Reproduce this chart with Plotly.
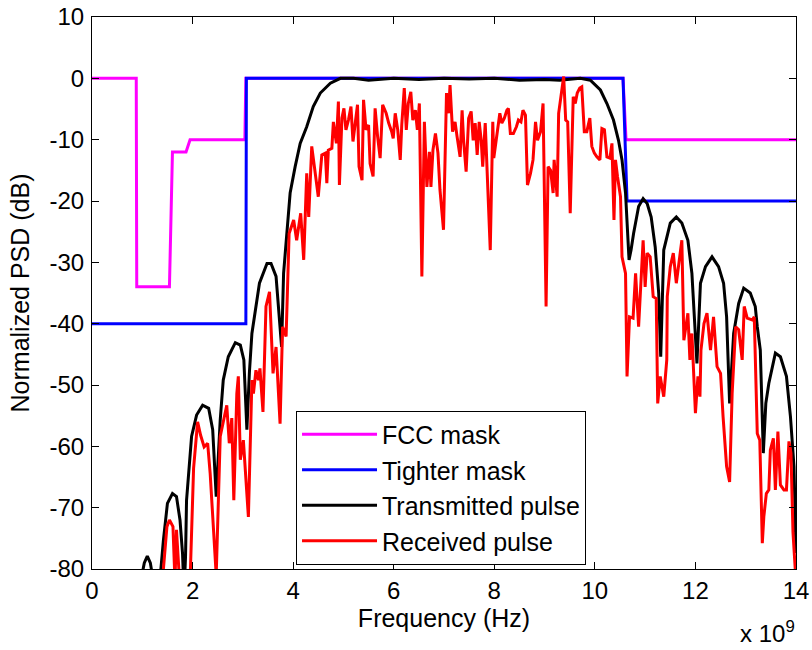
import plotly.graph_objects as go

# ---------------- data (frequency in GHz, PSD in dB) ----------------
fcc_f = [0, 0.88, 0.89, 1.54, 1.60, 1.87, 1.95, 3.04, 3.06, 10.56, 10.62, 14]
fcc_db = [0, 0, -34, -34, -12, -12, -10, -10, 0, 0, -10, -10]

tight_f = [0, 3.06, 3.07, 10.56, 10.64, 14]
tight_db = [-40, -40, 0, 0, -20, -20]

tx_f = [0.0, 0.90, 0.97, 1.04, 1.10, 1.16, 1.22, 1.30, 1.37, 1.42, 1.50, 1.60, 1.68, 1.75,
        1.80, 1.83, 1.86, 1.88, 1.98, 2.08, 2.20, 2.32, 2.40, 2.47, 2.55, 2.61, 2.71,
        2.85, 2.95, 3.02, 3.08, 3.13, 3.18, 3.33, 3.48, 3.56, 3.66, 3.74, 3.77, 3.81,
        3.87, 3.94, 4.04, 4.14, 4.27, 4.40, 4.54, 4.74, 4.94, 5.2, 5.5, 6.0, 6.5, 7.0,
        7.5, 8.0, 8.5, 9.0, 9.3, 9.6, 9.71, 9.91, 10.11, 10.24, 10.37, 10.47, 10.54,
        10.61, 10.64, 10.68, 10.72, 10.77, 10.87, 10.96, 11.04, 11.12, 11.20, 11.27,
        11.31, 11.37, 11.50, 11.62, 11.73, 11.85, 11.93, 12.00, 12.03, 12.10, 12.20,
        12.33, 12.46, 12.56, 12.62, 12.68, 12.76, 12.86, 12.96, 13.09, 13.19, 13.23,
        13.29, 13.35, 13.40, 13.46, 13.59, 13.69, 13.81, 13.89, 13.96, 14.0]
tx_db = [-95, -95, -82, -79, -77.9, -79, -82, -90, -80, -75.3, -69.3, -67.7, -68.2, -72,
         -77.4, -84, -78, -68.8, -58.4, -54.9, -53.3, -53.8, -57.3, -68.2, -55.7, -49.2, -45.4,
         -43.1, -43.5, -45.9, -57.3, -48, -41.6, -33.4, -30.2, -30.2, -32.3, -40.5, -43.8, -31.8,
         -25.8, -18.7, -14.4, -10.6, -7.9, -4.6, -2.4, -0.8, 0, 0, -0.3, 0, -0.2, 0,
         -0.1, 0, -0.3, -0.2, -0.3, -0.1, 0, -0.3, -1.9, -4.1, -6.8, -10.1, -13.3,
         -18.7, -24.2, -29.6, -28, -25.3, -20.9, -19.6, -20.4, -22.6, -27.5, -35.1,
         -45.4, -28, -23.6, -22.6, -23.6, -26.4, -31.8, -41, -46.5, -33.4, -30.7,
         -29.1, -30.7, -33.4, -38.9, -53.0, -41.6, -36.7, -34.2, -35, -37.2, -40.5,
         -44.3, -61.1, -53, -49.7, -44.8, -45.4, -48.6, -55.2, -63.3, -77.4]

rx_f = [1.38, 1.42, 1.49, 1.54, 1.61, 1.65, 1.68, 1.74, 1.80, 1.95, 2.02, 2.10, 2.16, 2.23,
        2.30, 2.35, 2.41, 2.47, 2.55, 2.68, 2.73, 2.78, 2.82, 2.88, 2.91, 2.95, 3.01, 3.11,
        3.18, 3.21, 3.26, 3.31, 3.34, 3.40, 3.46, 3.53, 3.60, 3.66, 3.74, 3.79, 3.86, 3.92,
        4.01, 4.07, 4.15, 4.21, 4.27, 4.31, 4.37, 4.44, 4.50, 4.57, 4.64, 4.67, 4.70, 4.77,
        4.80, 4.86, 4.90, 4.92, 4.97, 5.01, 5.05, 5.10, 5.15, 5.19, 5.23, 5.28, 5.31, 5.37,
        5.40, 5.45, 5.50, 5.53, 5.59, 5.63, 5.68, 5.73, 5.78, 5.85, 5.90, 5.96, 5.99, 6.03,
        6.08, 6.13, 6.16, 6.21, 6.25, 6.29, 6.34, 6.38, 6.43, 6.47, 6.51, 6.56, 6.61, 6.66,
        6.71, 6.74, 6.78, 6.83, 6.88, 6.92, 6.99, 7.05, 7.09, 7.12, 7.17, 7.22, 7.26, 7.32,
        7.36, 7.39, 7.44, 7.49, 7.54, 7.58, 7.62, 7.66, 7.70, 7.74, 7.77, 7.82, 7.92, 7.97,
        7.99, 8.05, 8.11, 8.15, 8.20, 8.25, 8.28, 8.32, 8.38, 8.44, 8.48, 8.53, 8.57, 8.62,
        8.66, 8.72, 8.77, 8.82, 8.86, 8.92, 8.97, 9.03, 9.07, 9.12, 9.17, 9.19, 9.25, 9.28,
        9.33, 9.38, 9.42, 9.46, 9.51, 9.57, 9.61, 9.65, 9.70, 9.74, 9.79, 9.84, 9.90, 9.94,
        9.99, 10.04, 10.10, 10.14, 10.19, 10.24, 10.30, 10.34, 10.38, 10.41, 10.45, 10.51,
        10.54, 10.61, 10.64, 10.69, 10.76, 10.81, 10.87, 10.96, 11.00, 11.04, 11.10, 11.16,
        11.22, 11.25, 11.30, 11.37, 11.43, 11.44, 11.50, 11.56, 11.62, 11.73, 11.77, 11.85,
        11.89, 11.93, 12.00, 12.05, 12.09, 12.11, 12.17, 12.23, 12.30, 12.36, 12.43, 12.50,
        12.55, 12.62, 12.68, 12.73, 12.80, 12.86, 12.93, 12.97, 13.03, 13.13, 13.17, 13.23,
        13.28, 13.33, 13.36, 13.41, 13.46, 13.49, 13.55, 13.59, 13.64, 13.69, 13.76, 13.81,
        13.86, 13.90, 13.94, 14.0]
rx_db = [-86, -80, -73.1, -72, -73.1, -82, -73.6, -82, -90, -82, -63.6, -56, -58.2, -60.1,
         -59.5, -64.4, -73.6, -81, -58.4, -53.3, -59.5, -55.4, -68.8, -51.4, -48.6, -62.2, -59, -71.5,
         -49.2, -51.4, -47.6, -49.2, -47.3, -54.4, -37.2, -34.8, -48.1, -43.8, -56.3, -40.5, -42.1, -25.3,
         -23.1, -26.4, -22, -29.6, -15.5, -22.6, -11.1, -15.5, -19.3, -12.5, -12.2, -17.1, -11.7, -11.4,
         -7.1, -10.6, -3.8, -17.4, -6.5, -4.9, -8.4, -6.8, -4.6, -10.3, -7.6, -4.3, -14.4, -16.6,
         -3.5, -8.4, -7.6, -13.9, -16, -4.9, -9.5, -13, -4.3, -5.7, -7.3, -8.7, -9.8, -5.7,
         -8.4, -13.3, -7.6, -1.6, -8.4, -4.1, -2.2, -6.8, -5.2, -8.4, -4.1, -32.3, -7.1, -17.7,
         -12, -17.7, -11.7, -9, -12.2, -18.2, -24.7, -2.4, -5.7, -1.1, -8.7, -7.1, -9.5, -12.8,
         -5.2, -10.1, -15.2, -6.5, -5.4, -10.1, -7.3, -12.5, -7.1, -10.1, -14.4, -7.3, -28, -7.1,
         -13, -9.5, -5.7, -7.3, -6.5, -5.2, -4.9, -9, -9, -7.9, -6.8, -7.1, -5.2, -6,
         -17.4, -15.5, -13.3, -7.1, -10.1, -8.7, -4.1, -37.2, -14.4, -15, -18.7, -13.3, -19.3, -5.7,
         -2.7, 0.3, -6.8, -7.1, -22, -3, -4.1, -2.4, -1.6, -1.4, -8.7, -8.7, -6.5, -11.1,
         -12.2, -12.8, -13.3, -8.2, -8.4, -12.8, -13, -10.6, -23.1, -13.3, -16, -19.3,
         -29.1, -31.8, -48.6, -38.9, -39.1, -31.8, -40.5, -26.4, -34, -28.5, -29.1, -35.6,
         -35.9, -53, -48.6, -51.9, -45.9, -35.6, -30.7, -28.5, -33.4, -26.4, -42.7, -38.3,
         -45.9, -41.6, -54.6, -48.6, -51.9, -44.3, -40, -38.3, -44.3, -38.9, -47, -48.1,
         -55.2, -63.3, -65.8, -51.4, -40.5, -41, -45.9, -37.2, -39.1, -39.4, -38.9, -57.9,
         -59, -75.8, -71.5, -67.7, -67.1, -60.6, -58.7, -67.1, -57.6, -66.3, -67.1, -67.1,
         -59.2, -61.1, -74, -82]

x_ticks = [0, 2, 4, 6, 8, 10, 12, 14]
y_ticks = [-80, -70, -60, -50, -40, -30, -20, -10, 0, 10]

FONT = "Liberation Sans, Arial, sans-serif"


def hz(v):
    return [f * 1e9 for f in v]


fig = go.Figure()
fig.add_trace(go.Scatter(x=hz(fcc_f), y=fcc_db, mode="lines", name="FCC mask",
                         line=dict(color="#ff00ff", width=3)))
fig.add_trace(go.Scatter(x=hz(tight_f), y=tight_db, mode="lines", name="Tighter mask",
                         line=dict(color="#0000ff", width=3)))
fig.add_trace(go.Scatter(x=hz(tx_f), y=tx_db, mode="lines", name="Transmitted pulse",
                         line=dict(color="#000000", width=3)))
fig.add_trace(go.Scatter(x=hz(rx_f), y=rx_db, mode="lines", name="Received pulse",
                         line=dict(color="#ff0000", width=3)))

axis_common = dict(showline=True, linecolor="black", linewidth=1, mirror="ticks",
                   ticks="inside", ticklen=7, tickcolor="black", tickwidth=1,
                   showgrid=False, zeroline=False, automargin=False,
                   ticklabeloverflow="allow",
                   tickfont=dict(family=FONT, size=24, color="black"))

fig.update_xaxes(range=[0, 14e9], tickvals=hz(x_ticks), ticktext=[str(t) for t in x_ticks],
                 title=dict(text="Frequency (Hz)", font=dict(family=FONT, size=25, color="black"),
                            standoff=1),
                 ticklabelstandoff=0, **axis_common)
fig.update_yaxes(range=[-80, 10], tickvals=y_ticks, ticktext=[str(t) for t in y_ticks],
                 title=dict(text="Normalized PSD (dB)", font=dict(family=FONT, size=25, color="black"),
                            standoff=12),
                 ticklabelstandoff=2, **axis_common)

fig.add_annotation(text="x 10<sup>9</sup>", xref="paper", yref="paper", x=1.002, y=-0.083,
                   xanchor="right", yanchor="top", showarrow=False,
                   font=dict(family=FONT, size=24, color="black"))

fig.update_layout(
    width=812, height=650,
    margin=dict(l=92, r=16, t=17, b=81, autoexpand=False),
    paper_bgcolor="white", plot_bgcolor="white",
    showlegend=True,
    legend=dict(x=0.2898, y=0.008, xanchor="left", yanchor="bottom",
                bgcolor="white", bordercolor="black", borderwidth=1,
                font=dict(family=FONT, size=25, color="black"),
                itemwidth=75, tracegroupgap=0),
)

# remove the browser's default 8px page margin so the figure fills the window
fig.write_html("out.html",
               config={"displayModeBar": False},
               post_script="document.body.style.margin='0px';"
                           "document.body.style.overflow='hidden';")
